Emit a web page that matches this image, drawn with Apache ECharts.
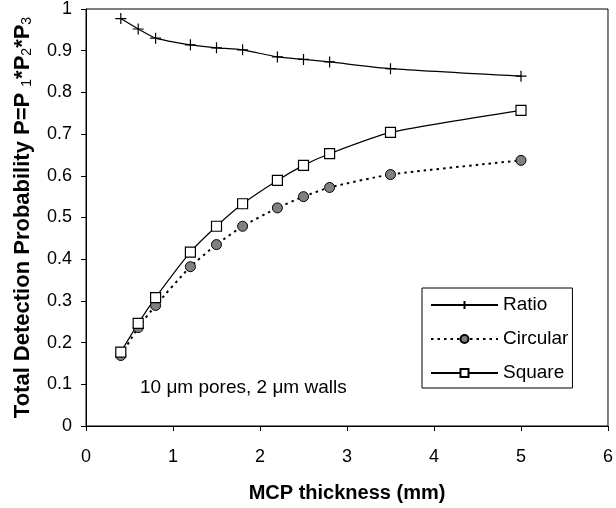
<!DOCTYPE html>
<html>
<head>
<meta charset="utf-8">
<script src="https://cdn.jsdelivr.net/npm/echarts@6/dist/echarts.min.js"></script>
<style>
  html, body { margin: 0; padding: 0; background: #fff; }
  #myChart { width: 616px; height: 508px; }
</style>
</head>
<body>
<div id="myChart"></div>
<script>
// MCP thickness (mm)
const thickness = [0.4, 0.6, 0.8, 1.2, 1.5, 1.8, 2.2, 2.5, 2.8, 3.5, 5.0];
// detection probability for each geometry
const ratio    = [0.977, 0.952, 0.930, 0.914, 0.907, 0.902, 0.885, 0.879, 0.873, 0.857, 0.839];
const circular = [0.169, 0.236, 0.289, 0.382, 0.435, 0.479, 0.523, 0.550, 0.572, 0.603, 0.637];
const square   = [0.177, 0.246, 0.308, 0.417, 0.479, 0.533, 0.589, 0.625, 0.653, 0.704, 0.757];

const xTicks = [0, 1, 2, 3, 4, 5, 6];
const FONT = 'Liberation Sans, Arial, sans-serif';

function pairs(ys) {
  return thickness.map(function (x, i) { return [x, ys[i]]; });
}

let myChart = echarts.init(document.getElementById('myChart'));

let option = {
  backgroundColor: '#fff',
  animation: false,
  textStyle: { fontFamily: FONT, color: '#000' },
  grid: {
    left: 86, right: 7, top: 9, bottom: 81,
    show: true, borderColor: '#000', borderWidth: 1
  },
  legend: {
    orient: 'vertical',
    left: 422, top: 288,
    backgroundColor: '#fff',
    borderColor: '#000', borderWidth: 1,
    padding: [6, 4, 4, 8],
    itemWidth: 67, itemHeight: 10, itemGap: 12,
    textStyle: { fontFamily: FONT, fontSize: 19, color: '#000', lineHeight: 22 },
    data: ['Ratio', 'Circular', 'Square']
  },
  xAxis: {
    type: 'value', min: xTicks[0], max: xTicks[xTicks.length - 1], interval: 1,
    name: 'MCP thickness (mm)',
    nameLocation: 'middle', nameGap: 57,
    nameTextStyle: { fontFamily: FONT, fontSize: 20, fontWeight: 'bold', color: '#000' },
    axisLine: { lineStyle: { color: '#000', width: 1 } },
    axisTick: { inside: false, length: 5, lineStyle: { color: '#000' } },
    axisLabel: { fontFamily: FONT, fontSize: 18, color: '#000', margin: 22 },
    splitLine: { show: false }
  },
  yAxis: {
    type: 'value', min: 0, max: 1, interval: 0.1,
    name: 'Total Detection Probability P=P {s|1}*P{s|2}*P{s|3}',
    nameLocation: 'middle', nameGap: 52,
    nameTextStyle: {
      fontFamily: FONT, fontSize: 22, fontWeight: 'bold', color: '#000',
      rich: {
        s: { fontFamily: FONT, fontSize: 14, fontWeight: 'normal', color: '#000', verticalAlign: 'bottom' }
      }
    },
    axisLine: { show: true, lineStyle: { color: '#000', width: 1 } },
    axisTick: { show: true, inside: false, length: 5, lineStyle: { color: '#000' } },
    axisLabel: { fontFamily: FONT, fontSize: 18, color: '#000', margin: 14 },
    splitLine: { show: false }
  },
  graphic: [{
    type: 'text',
    left: 140, top: 378,
    style: { text: '10 \u03bcm pores, 2 \u03bcm walls', font: '19px ' + FONT, fill: '#000' }
  }],
  series: [
    {
      name: 'Ratio', type: 'line', data: pairs(ratio),
      smooth: 0.2,
      symbol: 'path://M5,0L5,10M0,5L10,5', symbolSize: 11,
      itemStyle: { color: '#000', borderColor: '#000', borderWidth: 1.2 },
      lineStyle: { color: '#000', width: 1.2 }
    },
    {
      name: 'Circular', type: 'line', data: pairs(circular),
      smooth: 0.2,
      symbol: 'circle', symbolSize: 10,
      itemStyle: { color: '#808080', borderColor: '#000', borderWidth: 1 },
      lineStyle: { color: '#000', width: 2, type: [2.5, 4] }
    },
    {
      name: 'Square', type: 'line', data: pairs(square),
      smooth: 0.2,
      symbol: 'rect', symbolSize: 10,
      itemStyle: { color: '#fff', borderColor: '#000', borderWidth: 1.2 },
      lineStyle: { color: '#000', width: 1.2 }
    }
  ]
};

myChart.setOption(option);
</script>
</body>
</html>
